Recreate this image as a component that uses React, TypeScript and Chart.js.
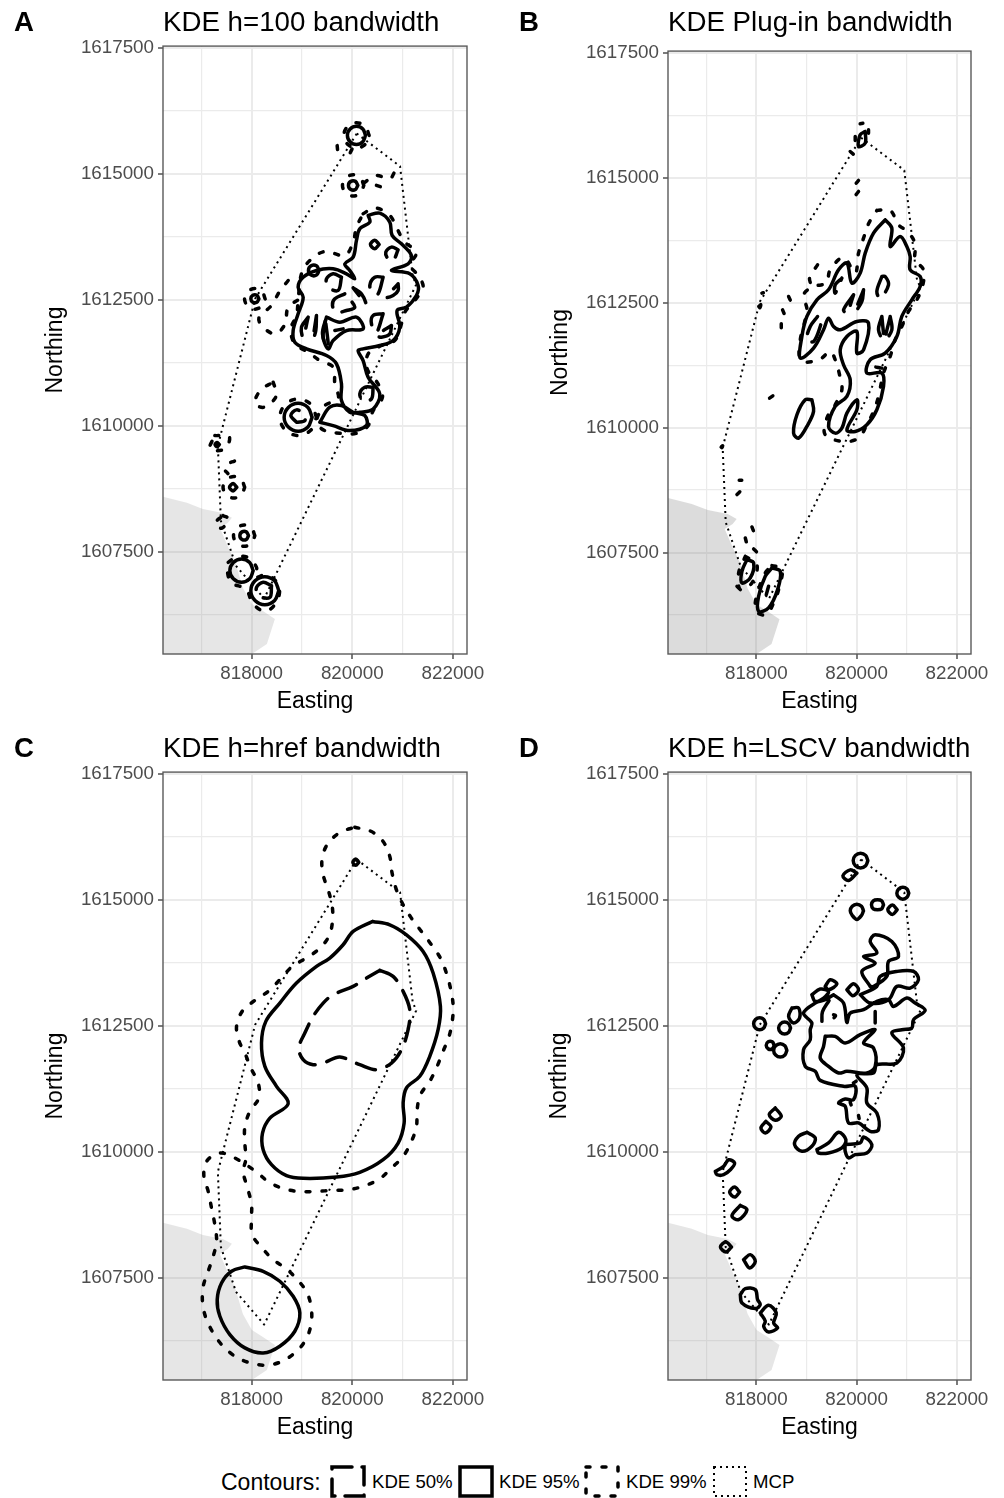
import React, { useEffect, useRef } from "react";
import { Chart, registerables } from "chart.js";

Chart.register(...registerables);

type P = [number, number];

// All contour vertices: metres east / north of this reference point.
const REF_EASTING = 818000;
const REF_NORTHING = 1610000;
const EAST_MIN = 816240;
const EAST_MAX = 822280;
const NORTH_MIN = 1605470;
const NORTH_MAX = 1617535;

const mcp: P[] = [[2090,5800],[2950,5150],[3200,2980],[3270,2800],[250,-3430],[-310,-2780],[-610,-1890],[-670,-400],[70,2520],[2090,5800]];

const coast: P[] = [[-1760,-1410],[-1286,-1530],[-968,-1650],[-570,-1730],[-391,-1828],[-471,-1927],[-630,-2027],[-431,-2484],[-332,-2682],[-173,-3219],[6,-3537],[225,-3676],[463,-3835],[304,-4332],[6,-4530],[-1760,-4530],[-1760,-1410]];

// Panel A, h=100
const a95: P[][] = [
  [[2316,4174],[2547,4220],[2746,4042],[2792,3777],[2978,3611],[3176,3380],[3110,3214],[2779,3082],[3143,3016],[3309,2784],[3275,2585],[3077,2354],[2891,2287],[2944,1956],[2812,1692],[2547,1592],[2216,1526],[2117,1493],[2216,1294],[2316,963],[2547,632],[2415,334],[2150,268],[1951,268],[1786,500],[1786,831],[1687,1228],[1488,1394],[1091,1526],[859,1658],[826,1890],[925,2221],[1025,2552],[925,2751],[1025,2949],[1289,3082],[1620,3115],[1885,3016],[2051,2916],[1951,3082],[1852,3214],[2018,3347],[2084,3678],[2150,3909],[2349,4042]],
  [[1356,70],[1554,368],[1786,401],[2018,268],[2249,202],[2282,3],[1951,-96],[1620,3]],
  [[2264,5763],[2210,5889],[2084,5943],[1958,5889],[1904,5763],[1958,5637],[2084,5583],[2210,5637]],
  [[2111,4770],[2064,4850],[1972,4850],[1925,4770],[1972,4690],[2064,4690]],
  [[145,2519],[105,2588],[25,2588],[-15,2519],[25,2450],[105,2450]],
  [[1203,169],[1120,364],[925,447],[730,364],[647,169],[730,-26],[925,-109],[1120,-26]],
  [[2534,3598],[2448,3684],[2362,3598],[2448,3512]],
  [[1342,3082],[1289,3174],[1183,3174],[1130,3082],[1183,2990],[1289,2990]],
  [[1488,2155],[1753,2056],[2084,2155],[2216,1923],[1885,1890],[1620,1692],[1521,1526],[1409,1824]],
  [[32,-2876],[-38,-2714],[-200,-2644],[-362,-2714],[-432,-2876],[-362,-3038],[-200,-3108],[-38,-3038]],
  [[541,-3273],[458,-3078],[263,-2995],[68,-3078],[-15,-3273],[68,-3468],[263,-3551],[458,-3468]],
  [[-293,-1221],[-366,-1148],[-439,-1221],[-366,-1294]],
  [[-61,-2181],[-104,-2106],[-190,-2106],[-233,-2181],[-190,-2256],[-104,-2256]],
  [[-640,-374],[-683,-331],[-726,-374],[-683,-417]],
];
const a50: P[][] = [
  [[1786,2949],[1620,3016],[1488,2916],[1521,2751],[1720,2685]],
  [[2911,3492],[2779,3545],[2666,3445],[2713,3313],[2812,3280]],
  [[2613,2949],[2448,2949],[2349,2784],[2415,2632],[2514,2618]],
  [[2911,2817],[2911,2685],[2812,2585],[2680,2552]],
  [[2018,2738],[2183,2618],[2269,2420]],
  [[1852,2618],[1654,2519],[1607,2387],[1687,2254],[1885,2287],[2051,2354]],
  [[2613,2221],[2415,2188],[2382,2023],[2481,1857]],
  [[2779,1989],[2746,1824],[2580,1758],[2481,1791]],
  [[1124,2155],[991,1956],[1025,1758]],
  [[1289,2188],[1276,1890],[1223,1725]],
  [[1468,2089],[1422,1758],[1521,1559]],
  [[1654,1890],[1819,1923]],
  [[2415,765],[2249,765],[2150,632],[2216,500],[2382,533]],
  [[892,70],[780,202],[892,315],[1038,235],[1058,103]],
  [[396,-3174],[230,-3108],[98,-3207],[131,-3373],[363,-3406]],
];
const a99: P[][] = [
  [[2216,4207],[2448,4326],[2746,4174],[2891,3909],[3044,3645],[3275,3446],[3156,3181],[3309,2983],[3408,2751],[3242,2486],[3044,2254],[2958,1956],[2845,1692],[2580,1592],[2316,1427],[2296,1129],[2514,831],[2600,566],[2415,301],[2316,3],[2084,-149],[1753,-149],[1455,-96],[1289,70],[1455,401],[1720,533],[1654,831],[1620,1162],[1356,1294],[1124,1460],[859,1625],[780,1923],[892,2188],[925,2486],[991,3016],[1157,3280],[1455,3459],[1852,3380],[2018,3645],[2084,3942]],
  [[2336,5763],[2260,5939],[2084,6015],[1908,5939],[1832,5763],[1908,5587],[2084,5511],[2260,5587]],
  [[2230,4770],[2166,4918],[2018,4982],[1870,4918],[1806,4770],[1870,4622],[2018,4558],[2166,4622]],
  [[270,2519],[208,2662],[65,2724],[-78,2662],[-140,2519],[-78,2376],[65,2314],[208,2376]],
  [[1289,169],[1180,424],[925,533],[670,424],[561,169],[670,-86],[925,-195],[1180,-86]],
  [[429,864],[495,600],[250,368],[65,447],[184,712]],
  [[-730,-195],[-445,-215],[-531,-460],[-829,-460]],
  [[-137,-1221],[-202,-1071],[-352,-1006],[-502,-1071],[-567,-1221],[-502,-1371],[-352,-1436],[-202,-1371]],
  [[-564,-1784],[-452,-1850],[-597,-2035],[-730,-1936]],
  [[65,-2181],[1,-2033],[-147,-1969],[-295,-2033],[-359,-2181],[-295,-2329],[-147,-2393],[1,-2329]],
  [[-465,-2711],[-366,-2645],[-114,-2598],[98,-2810],[65,-3009],[310,-2956],[541,-3174],[508,-3472],[283,-3684],[32,-3538],[-114,-3240],[-399,-3121],[-478,-2909]],
];
const a99Open: P[][] = [
  [[727,2883],[548,2652],[396,2387],[151,2155],[197,1989],[462,1824],[660,2009],[727,2354],[925,2499]],
  [[2229,4816],[2468,4968],[2746,4902],[2845,5035],[2997,5167]],
  [[2481,4770],[2746,4684]],
  [[1700,5560],[1720,5440],[1780,5390]],
  [[1960,5420],[2000,5500]],
  [[-340,-700],[-480,-760],[-540,-860],[-470,-950]],
];

// Panel B, plug-in
const b95: P[][] = [
  [[2569,4159],[2702,3992],[2669,3625],[2868,3825],[3001,3625],[3067,3425],[3067,3158],[3266,3025],[3266,2825],[3100,2558],[2901,2225],[2802,1824],[2569,1491],[2270,1358],[2204,1091],[2503,1091],[2536,824],[2403,357],[2204,57],[1972,-77],[1806,-43],[2005,357],[2005,557],[1806,290],[1706,-10],[1573,-110],[1440,23],[1573,424],[1806,624],[1872,957],[1739,1257],[1673,1558],[1806,1824],[2005,1924],[2005,1491],[2138,1558],[2237,2091],[2005,2125],[1673,1958],[1540,2024],[1440,2191],[1341,1958],[1142,1591],[876,1391],[909,1824],[1009,2225],[1208,2558],[1440,2758],[1640,3158],[1806,3292],[1905,2892],[2071,3092],[2171,3492],[2337,3892]],
  [[1108,557],[1142,324],[1009,24],[843,-210],[743,-110],[810,257],[976,557]],
  [[2171,5926],[2171,5693],[2038,5626],[2071,5860]],
  [[312,-2808],[478,-2875],[425,-3242],[245,-3608],[46,-3675],[46,-3375],[179,-2975]],
  [[-186,-2641],[-53,-2708],[-120,-3008],[-286,-3108],[-286,-2875]],
  [[52,2425],[90,2460],[70,2400]],
  [[-700,-390],[-670,-360],[-684,-400]],
];
const b50: P[][] = [
  [[1221,2224],[1075,2024],[1009,1758],[1142,1724],[1274,2024],[1288,2158]],
  [[1706,2992],[1573,2858],[1573,2692]],
  [[2503,3025],[2403,2725],[2470,2592],[2636,2858],[2569,3025]],
  [[1939,2658],[1739,2358],[1806,2292]],
  [[2138,2758],[2105,2525],[1972,2324]],
  [[2503,2224],[2436,1958],[2536,1758]],
  [[2669,2224],[2702,1958],[2569,1758]],
  [[2383,1211],[2503,1191]],
  [[245,-3175],[199,-3342]],
];
const b99: P[][] = [
  [[2403,4346],[2669,4346],[2835,4059],[3014,3925],[3167,3679],[3167,3359],[3333,3158],[3320,2858],[3200,2558],[3034,2325],[2901,2024],[2768,1758],[2669,1424],[2536,1091],[2436,624],[2337,324],[2204,57],[2038,-210],[1739,-277],[1374,-143],[1407,190],[1573,457],[1706,757],[1660,1057],[1573,1358],[1474,1524],[1274,1371],[976,1311],[863,1391],[876,1758],[1009,2358],[942,2658],[1142,2825],[1394,2892],[1474,3158],[1739,3405],[1972,3092],[2038,3492],[2138,3792],[2237,4079]],
  [[312,-2761],[511,-2828],[445,-3242],[345,-3508],[199,-3742],[-7,-3675],[13,-3342],[179,-2908]],
  [[-219,-2575],[13,-2741],[-87,-3108],[-319,-3242],[-352,-2908]],
];
const b99Open: P[][] = [
  [[1221,3258],[1062,2992],[1128,2792]],
  [[644,2625],[690,2525]],
  [[524,2358],[557,2278]],
  [[498,2078],[498,1991]],
  [[2124,6090],[2071,6080]],
  [[2237,5960],[2237,5893]],
  [[1972,5826],[1972,5693]],
  [[1872,5526],[2005,5413]],
  [[2038,4946],[1992,4893]],
  [[2038,4726],[1952,4612]],
  [[112,2692],[140,2700]],
  [[265,590],[378,670]],
  [[-340,-1054],[-290,-1054]],
  [[-385,-1340],[-319,-1274]],
  [[-87,-1988],[-53,-2074]],
  [[-219,-2208],[-186,-2341]],
  [[-53,-2428],[13,-2494]],
  [[-385,-3175],[-286,-3275]],
];

// Panel C, href
const c95: P[][] = [
  [[2402,4571],[2746,4505],[3077,4306],[3408,3976],[3607,3546],[3752,2885],[3706,2422],[3540,1894],[3342,1497],[3077,1266],[3011,968],[3031,569],[2912,173],[2614,-158],[2150,-409],[1687,-502],[1025,-528],[694,-475],[396,-257],[230,40],[217,371],[363,668],[727,953],[495,1299],[264,1695],[197,2158],[283,2588],[561,2951],[892,3348],[1290,3678],[1554,3844],[1819,4108],[2018,4372]],
  [[-134,-2286],[230,-2372],[561,-2570],[826,-2868],[959,-3198],[859,-3562],[561,-3859],[230,-3992],[-134,-3892],[-432,-3628],[-630,-3265],[-683,-2934],[-597,-2604],[-398,-2372]],
  [[2130,5747],[2071,5810],[2012,5747],[2071,5684]],
];
const c50: P[][] = [
  [[2547,3599],[2812,3480],[3011,3183],[3143,2819],[3110,2422],[2978,2026],[2779,1761],[2481,1629],[2150,1728],[1753,1880],[1455,1775],[1223,1728],[1025,1827],[939,2059],[1058,2356],[1223,2687],[1422,2951],[1621,3116],[2018,3282],[2283,3447]],
];
const c99: P[][] = [
  [[2051,6441],[2382,6355],[2614,6157],[2746,5860],[2792,5529],[2878,5199],[3011,4901],[3176,4637],[3375,4372],[3574,4108],[3752,3843],[3871,3546],[3951,3249],[4004,2918],[3991,2621],[3924,2290],[3805,1993],[3686,1695],[3540,1398],[3355,1133],[3289,834],[3276,503],[3176,206],[3011,-92],[2779,-323],[2547,-535],[2250,-673],[1938,-753],[1621,-766],[1290,-786],[972,-792],[661,-739],[350,-607],[98,-402],[-332,-125],[-630,-26],[-895,-191],[-948,-488],[-862,-786],[-796,-1116],[-730,-1447],[-696,-1777],[-763,-2075],[-862,-2372],[-961,-2670],[-974,-3000],[-908,-3298],[-763,-3595],[-584,-3840],[-332,-4058],[-34,-4190],[283,-4236],[581,-4170],[859,-3992],[1071,-3740],[1177,-3450],[1190,-3132],[1104,-2802],[926,-2557],[694,-2326],[429,-2141],[197,-1896],[12,-1645],[-2,-1315],[-2,-1030],[-87,-700],[-167,-389],[-114,-145],[-134,173],[-134,490],[-34,801],[144,1067],[131,1365],[-15,1662],[-134,1960],[-246,2191],[-299,2488],[-187,2786],[65,3004],[330,3183],[561,3414],[793,3665],[1058,3830],[1323,4009],[1535,4273],[1607,4571],[1601,4881],[1521,5199],[1422,5496],[1402,5827],[1521,6124],[1766,6342]],
];

// Panel D, LSCV
const d95: P[][] = [
  [[2224,5780],[2180,5882],[2078,5926],[1976,5882],[1932,5780],[1976,5678],[2078,5634],[2180,5678]],
  [[2005,5529],[1872,5595],[1726,5476],[1839,5384]],
  [[3040,5132],[3004,5215],[2921,5251],[2838,5215],[2802,5132],[2838,5049],[2921,5013],[3004,5049]],
  [[2137,4782],[2097,4874],[2005,4914],[1913,4874],[1873,4782],[1913,4690],[2005,4610],[2097,4690]],
  [[2536,4901],[2500,4980],[2416,5000],[2332,4980],[2296,4901],[2332,4822],[2416,4805],[2500,4822]],
  [[2808,4802],[2715,4895],[2622,4802],[2715,4709]],
  [[185,2541],[149,2624],[66,2660],[-17,2624],[-53,2541],[-17,2458],[66,2422],[149,2458]],
  [[710,2852],[843,2852],[863,2654],[743,2555],[644,2687]],
  [[683,2455],[647,2538],[564,2574],[481,2538],[445,2455],[481,2372],[564,2336],[647,2372]],
  [[358,2112],[318,2182],[238,2182],[198,2112],[238,2042],[318,2042]],
  [[610,2012],[570,2104],[478,2144],[386,2104],[346,2012],[386,1920],[478,1880],[570,1920]],
  [[378,869],[498,704],[378,624],[258,737]],
  [[192,604],[292,492],[179,373],[92,472]],
  [[1009,386],[1175,274],[1108,109],[909,10],[763,142],[843,307]],
  [[1208,43],[1440,175],[1640,386],[1786,241],[1706,76],[1440,-24],[1241,-24]],
  [[1772,142],[2071,175],[2138,294],[2304,142],[2204,-24],[1972,-57],[1839,-123],[1772,10]],
  [[1540,3116],[1739,2951],[1806,2568],[1872,2753],[2138,2819],[2403,2984],[2636,3017],[2735,2885],[3001,3050],[3167,2951],[3366,2806],[3134,2621],[3100,2455],[2901,2422],[2702,2356],[2934,2059],[2802,1761],[2403,1728],[2337,1563],[2005,1530],[2204,1265],[2204,968],[2403,770],[2436,439],[2270,406],[2038,572],[1839,572],[1772,902],[1640,968],[1772,1047],[1938,1034],[1972,1299],[1739,1299],[1274,1417],[1175,1596],[976,1695],[942,2026],[1075,2224],[1075,2422],[1108,2555],[942,2753],[1175,2951],[1374,3017]],
  [[1374,2290],[1573,2290],[1772,2158],[2071,2323],[2370,2422],[2138,2158],[2337,2059],[2370,1695],[2204,1563],[1806,1596],[1640,1563],[1440,1695],[1274,1860],[1341,2092]],
  [[2071,3116],[2403,3282],[2470,3480],[2802,3579],[3134,3579],[3233,3414],[3067,3249],[2802,3282],[2636,3017],[2270,2951]],
  [[2270,3282],[2104,3579],[2370,3744],[2138,3876],[2403,3943],[2270,4174],[2370,4306],[2702,4174],[2835,3876],[2636,3777],[2602,3480],[2337,3282]],
  [[1108,3116],[1274,3229],[1440,3182],[1341,3050],[1175,2984]],
  [[1374,3282],[1474,3414],[1606,3328],[1440,3215]],
  [[1806,3215],[1938,3334],[2038,3215],[1925,3097]],
  [[-817,-390],[-651,-291],[-552,-159],[-432,-225],[-518,-357],[-651,-456],[-784,-456]],
  [[-332,-800],[-432,-700],[-532,-800],[-432,-900]],
  [[-319,-1064],[-186,-1150],[-352,-1348],[-485,-1269]],
  [[-495,-1890],[-605,-1790],[-715,-1890],[-605,-1990]],
  [[-253,-2142],[-120,-2042],[-20,-2175],[-133,-2307]],
  [[-319,-2836],[-220,-2717],[-20,-2737],[26,-2935],[79,-3034],[-20,-3113],[-286,-3001]],
  [[79,-3199],[245,-3047],[398,-3199],[345,-3398],[424,-3497],[245,-3576],[146,-3464],[179,-3364]],
];
const d95Open: P[][] = [
  [[1308,2588],[1320,2780],[1450,3000]],
  [[2370,2786],[2370,2554]],
  [[1540,2720],[1580,2700],[1550,2660]],
  [[1936,1365],[1990,1400]],
  [[1872,980],[1890,930]],
  [[2038,720],[2050,660]],
];

const TICK_EAST = [818000, 820000, 822000];
const MINOR_EAST = [817000, 819000, 821000];
const TICK_NORTH = [1607500, 1610000, 1612500, 1615000, 1617500];
const MINOR_NORTH = [1606250, 1608750, 1611250, 1613750, 1616250];

const FONT = "'Liberation Sans', Arial, sans-serif";

function toPoints(closed: P[][], open: P[][] = []) {
  const out: { x: number | null; y: number | null }[] = [];
  const add = (line: P[]) => {
    line.forEach(([e, n]) => out.push({ x: REF_EASTING + e, y: REF_NORTHING + n }));
    out.push({ x: null, y: null });
  };
  closed.forEach((l) => add([...l, l[0]]));
  open.forEach(add);
  return out;
}

const panelFrame = {
  id: "panelFrame",
  afterDatasetsDraw(chart: any) {
    const { ctx, chartArea: a } = chart;
    ctx.save();
    ctx.strokeStyle = "#5a5a5a";
    ctx.lineWidth = 1.4;
    ctx.strokeRect(a.left, a.top, a.right - a.left, a.bottom - a.top);
    ctx.restore();
  },
};

type PanelCfg = {
  tag: string;
  tagLeft: number;
  title: string;
  left: number;
  top: number;
  padLeft: number;
  axisWidth: number;
  padRight: number;
  titleGap: number;
  coastFill: string;
  k50: P[][];
  k95: P[][];
  k99: P[][];
  k95Open?: P[][];
  k99Open?: P[][];
};

const panels: PanelCfg[] = [
  { tag: "A", tagLeft: 14, title: "KDE h=100 bandwidth", left: 0, top: 0, padLeft: 44.5, axisWidth: 118.5, padRight: 35, titleGap: 8.4, coastFill: "rgba(128,128,128,0.2)", k50: a50, k95: a95, k99: a99, k99Open: a99Open },
  { tag: "B", tagLeft: 17, title: "KDE Plug-in bandwidth", left: 502, top: 0, padLeft: 47.5, axisWidth: 118.5, padRight: 33, titleGap: 13.4, coastFill: "rgba(128,128,128,0.28)", k50: b50, k95: b95, k99: b99, k99Open: b99Open },
  { tag: "C", tagLeft: 14, title: "KDE h=href bandwidth", left: 0, top: 726, padLeft: 44.5, axisWidth: 118.5, padRight: 35, titleGap: 8.4, coastFill: "rgba(128,128,128,0.2)", k50: c50, k95: c95, k99: c99 },
  { tag: "D", tagLeft: 17, title: "KDE h=LSCV bandwidth", left: 502, top: 726, padLeft: 46.5, axisWidth: 119.5, padRight: 33, titleGap: 8.4, coastFill: "rgba(128,128,128,0.2)", k50: [], k95: d95, k99: [], k95Open: d95Open },
];

const W = 502;
const H = 716;

const DASH_50 = [20, 12];
const DASH_99 = [4, 12];
const DASH_MCP = [2, 4];
const WIDTH_KDE = 3.5;
const WIDTH_MCP = 2;

function Panel({ cfg }: { cfg: PanelCfg }) {
  const ref = useRef<HTMLCanvasElement>(null);
  useEffect(() => {
    const line = (label: string, data: any[], dash: number[], width: number, cap: string, tension: number) => ({
      label, data, borderColor: "#000", borderWidth: width, borderDash: dash, borderCapStyle: cap,
      borderJoinStyle: "round", showLine: true, pointRadius: 0, pointHoverRadius: 0, tension, spanGaps: false, fill: false,
    });
    const axisCommon = (major: number[], minor: number[]) => ({
      type: "linear" as const,
      border: { display: false },
      afterBuildTicks: (s: any) => {
        s.ticks = [...minor, ...major].sort((a, b) => a - b).map((value) => ({ value }));
      },
      grid: {
        color: "#EBEBEB",
        lineWidth: (c: any) => (major.includes(c.tick?.value) ? 2 : 1.2),
        tickColor: (c: any) => (major.includes(c.tick?.value) ? "#333333" : "rgba(0,0,0,0)"),
        tickWidth: 1.3,
        tickLength: 5,
        drawTicks: true,
      },
      ticks: {
        autoSkip: false,
        maxRotation: 0,
        minRotation: 0,
        color: "#4D4D4D",
        padding: 4,
        font: { family: FONT, size: 18.8 },
        callback: (v: any) => (major.includes(v) ? String(v) : ""),
      },
    });
    const chart = new Chart(ref.current!, {
      type: "scatter",
      data: {
        datasets: [
          line("MCP", toPoints([], [mcp]), DASH_MCP, WIDTH_MCP, "butt", 0),
          line("KDE 95%", toPoints(cfg.k95, cfg.k95Open ?? []), [], WIDTH_KDE, "round", 0.35),
          line("KDE 50%", toPoints(cfg.k50), DASH_50, WIDTH_KDE, "round", 0.35),
          line("KDE 99%", toPoints(cfg.k99, cfg.k99Open ?? []), DASH_99, WIDTH_KDE, "round", 0.35),
          {
            label: "Coast",
            data: toPoints([], [coast]).filter((p) => p.x !== null),
            showLine: true,
            borderWidth: 0,
            borderColor: "rgba(0,0,0,0)",
            backgroundColor: cfg.coastFill,
            fill: "shape",
            pointRadius: 0,
            tension: 0,
          },
        ] as any,
      },
      options: {
        responsive: false,
        animation: false,
        events: [],
        layout: { padding: { left: cfg.padLeft, right: cfg.padRight, top: 10, bottom: 2.5 } },
        plugins: {
          legend: { display: false },
          tooltip: { enabled: false },
          title: {
            display: true,
            text: cfg.title,
            align: "start",
            fullSize: false,
            color: "#000",
            font: { family: FONT, size: 27.7, weight: "normal", lineHeight: 1 },
            padding: { top: 0, bottom: cfg.titleGap },
          },
        },
        scales: {
          x: {
            ...axisCommon(TICK_EAST, MINOR_EAST),
            min: EAST_MIN,
            max: EAST_MAX,
            title: { display: true, text: "Easting", color: "#000", font: { family: FONT, size: 23, lineHeight: 1 }, padding: 0 },
            afterFit: (s: any) => { s.height = 59.5; },
          },
          y: {
            ...axisCommon(TICK_NORTH, MINOR_NORTH),
            min: NORTH_MIN,
            max: NORTH_MAX,
            title: { display: true, text: "Northing", color: "#000", font: { family: FONT, size: 23, lineHeight: 1 }, padding: 0 },
            afterFit: (s: any) => { s.width = cfg.axisWidth; },
          },
        },
      } as any,
      plugins: [panelFrame],
    });
    return () => chart.destroy();
  }, [cfg]);
  return (
    <div style={{ position: "absolute", left: cfg.left, top: cfg.top, width: W, height: H }}>
      <canvas ref={ref} width={W} height={H} style={{ display: "block" }} />
      <div style={{ position: "absolute", left: cfg.tagLeft, top: 6, font: `bold 27.6px/32px ${FONT}`, color: "#000" }}>{cfg.tag}</div>
    </div>
  );
}

const legendItems = [
  { label: "KDE 50%", dash: "20 10", x: 332, text: 372, width: 3.5, cap: "round" as const },
  { label: "KDE 95%", dash: "", x: 460, text: 499, width: 3.5, cap: "round" as const },
  { label: "KDE 99%", dash: "4 12", x: 586, text: 626, width: 3.5, cap: "round" as const },
  { label: "MCP", dash: "2 4", x: 714, text: 753, width: 2, cap: "butt" as const },
];

function Legend() {
  return (
    <>
      <div style={{ position: "absolute", left: 221, top: 1468, font: `23px/28px ${FONT}`, color: "#000" }}>Contours:</div>
      {legendItems.map((it) => (
        <React.Fragment key={it.label}>
          <svg style={{ position: "absolute", left: it.x - 2, top: 1464 }} width={38} height={34}>
            <rect x={2} y={3} width={32} height={29} fill="none" stroke="#000" strokeWidth={it.width} strokeDasharray={it.dash} strokeLinecap={it.cap} />
          </svg>
          <div style={{ position: "absolute", left: it.text, top: 1470, font: `18.6px/24px ${FONT}`, color: "#000" }}>{it.label}</div>
        </React.Fragment>
      ))}
    </>
  );
}

export default function App() {
  return (
    <div style={{ position: "absolute", left: 0, top: 0, width: 1004, height: 1498, overflow: "hidden", background: "#fff" }}>
      {panels.map((p) => (
        <Panel key={p.tag} cfg={p} />
      ))}
      <Legend />
    </div>
  );
}
